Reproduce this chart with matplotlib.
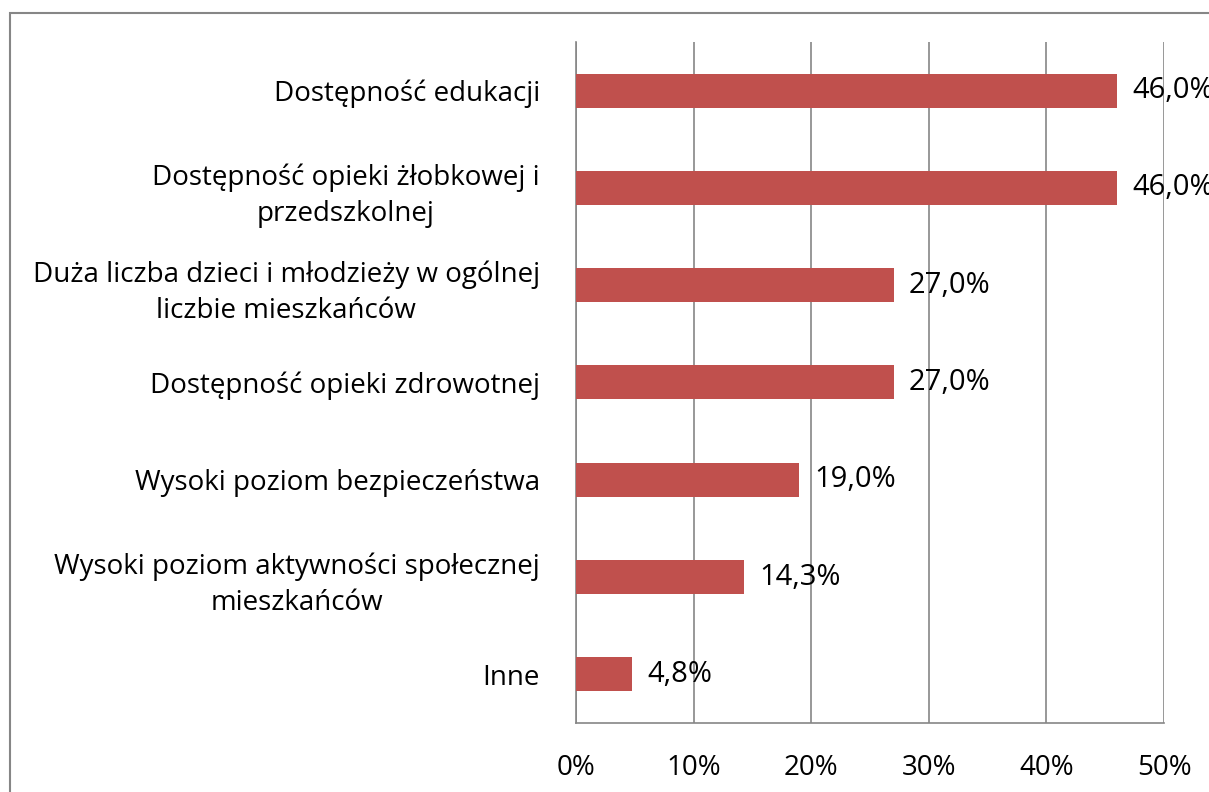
import matplotlib
matplotlib.use('Agg')
from matplotlib import pyplot as plt
from matplotlib.patches import Rectangle

categories = [
    'Dostępność edukacji',
    'Dostępność opieki żłobkowej i\nprzedszkolnej',
    'Duża liczba dzieci i młodzieży w ogólnej\nliczbie mieszkańców',
    'Dostępność opieki zdrowotnej',
    'Wysoki poziom bezpieczeństwa',
    'Wysoki poziom aktywności społecznej\nmieszkańców',
    'Inne',
]
values = [46.0, 46.0, 27.0, 27.0, 19.0, 14.3, 4.8]
xticks = [0, 10, 20, 30, 40, 50]

plt.rcParams['font.family'] = ['Open Sans', 'DejaVu Sans']
GRAY = '#868686'

fig = plt.figure(figsize=(12.09, 7.92), dpi=100)
ax = fig.add_axes([0.4764, 0.0871, 0.4864, 0.860])

ypos = list(range(len(categories)))[::-1]
ax.barh(ypos, values, height=0.35, color='#C0504D', zorder=3)

for y, v in zip(ypos, values):
    ax.annotate(f'{v:.1f}%'.replace('.', ','), (v, y), xytext=(11, 0),
                textcoords='offset points', va='center', ha='left',
                fontsize=21, zorder=4, annotation_clip=False)

ax.set_xlim(0, 50)
ax.set_ylim(-0.5, 6.5)
ax.set_xticks(xticks)
ax.set_xticklabels([f'{t}%' for t in xticks], fontsize=20)
ax.set_yticks(ypos)
ax.set_yticklabels(categories, fontsize=20)
for lbl in ax.get_yticklabels():
    lbl.set_multialignment('center')
    lbl.set_linespacing(1.4)

ax.tick_params(axis='both', length=0)
ax.tick_params(axis='x', pad=22)
ax.tick_params(axis='y', pad=26)
ax.grid(axis='x', color=GRAY, linewidth=1.2, zorder=0)
for s in ['top', 'right']:
    ax.spines[s].set_visible(False)
for s in ['left', 'bottom']:
    ax.spines[s].set_color(GRAY)
    ax.spines[s].set_linewidth(1.2)

# outer frame, cropped at right and bottom
fig.patches.append(Rectangle((10 / 1209, -0.1), 1.2, 1 - 13 / 792 + 0.1,
                             transform=fig.transFigure, fill=False,
                             edgecolor=GRAY, linewidth=1.5))

fig.savefig('out.png', dpi=100)
